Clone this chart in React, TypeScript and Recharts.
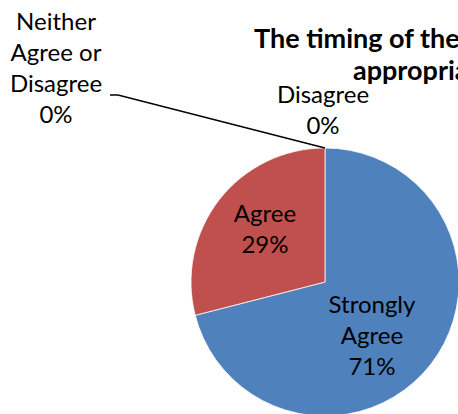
import React from "react";
import { PieChart, Pie, Cell } from "recharts";

const categories = ["Strongly Agree", "Agree", "Neither Agree or Disagree", "Disagree"];
const percents = [71, 29, 0, 0];
const labelLines = [["Strongly", "Agree"], ["Agree"], ["Neither", "Agree or", "Disagree"], ["Disagree"]];
const titleLines = ["The timing of the", "appropriate"];

const data = categories.map((name, i) => ({ name, value: percents[i] }));

const COLORS = ["#4F81BD", "#C0504D", "#9BBB59", "#8064A2"];
const W = 458;
const H = 414;
const CX = 325;
const CY = 282;
const R = 134;
const LINE_H = 31;
const FONT = "Lato, 'Open Sans', sans-serif";
// label block placement relative to pie centre (first baseline)
const LABEL_POS = [
  { dx: 47, dy: 31 },
  { dx: -60, dy: -60 },
  { dx: -269, dy: -252 },
  { dx: -2, dy: -179 },
];

const renderLabel = (props: any) => {
  const { cx, cy, outerRadius, index } = props;
  const pos = LABEL_POS[index];
  const x = cx + pos.dx;
  const y = cy + pos.dy;
  const lines = [...labelLines[index], `${percents[index]}%`];
  return (
    <g key={`lbl-${index}`}>
      {index === 2 && (
        <polyline
          points={`${cx},${cy - outerRadius} ${cx - 207},${cy - 187} ${cx - 215},${cy - 187}`}
          fill="none"
          stroke="#000"
          strokeWidth={1.5}
        />
      )}
      <text x={x} y={y} textAnchor="middle" fontFamily={FONT} fontSize={24} fill="#000">
        {lines.map((l, i) => (
          <tspan key={i} x={x} y={y + i * LINE_H}>
            {l}
          </tspan>
        ))}
      </text>
    </g>
  );
};

export default function App() {
  return (
    <div style={{ position: "absolute", left: 0, top: 0, width: W, height: H, overflow: "hidden", background: "#fff" }}>
      <PieChart width={W} height={H} margin={{ top: 0, right: 0, bottom: 0, left: 0 }}>
        <Pie
          data={data}
          dataKey="value"
          nameKey="name"
          cx={CX}
          cy={CY}
          outerRadius={R}
          startAngle={90}
          endAngle={-270}
          stroke="#ffffff"
          strokeWidth={0.75}
          labelLine={false}
          label={renderLabel}
          isAnimationActive={false}
        >
          {data.map((d, i) => (
            <Cell key={d.name} fill={COLORS[i]} />
          ))}
        </Pie>
      </PieChart>
      <svg width={W} height={H} style={{ position: "absolute", left: 0, top: 0, pointerEvents: "none" }}>
        <text x={254} y={48} fontFamily={FONT} fontWeight="bold" fontSize={27} fill="#000">
          {titleLines[0]}
        </text>
        <text x={353} y={80} fontFamily={FONT} fontWeight="bold" fontSize={27} fill="#000">
          {titleLines[1]}
        </text>
      </svg>
    </div>
  );
}
